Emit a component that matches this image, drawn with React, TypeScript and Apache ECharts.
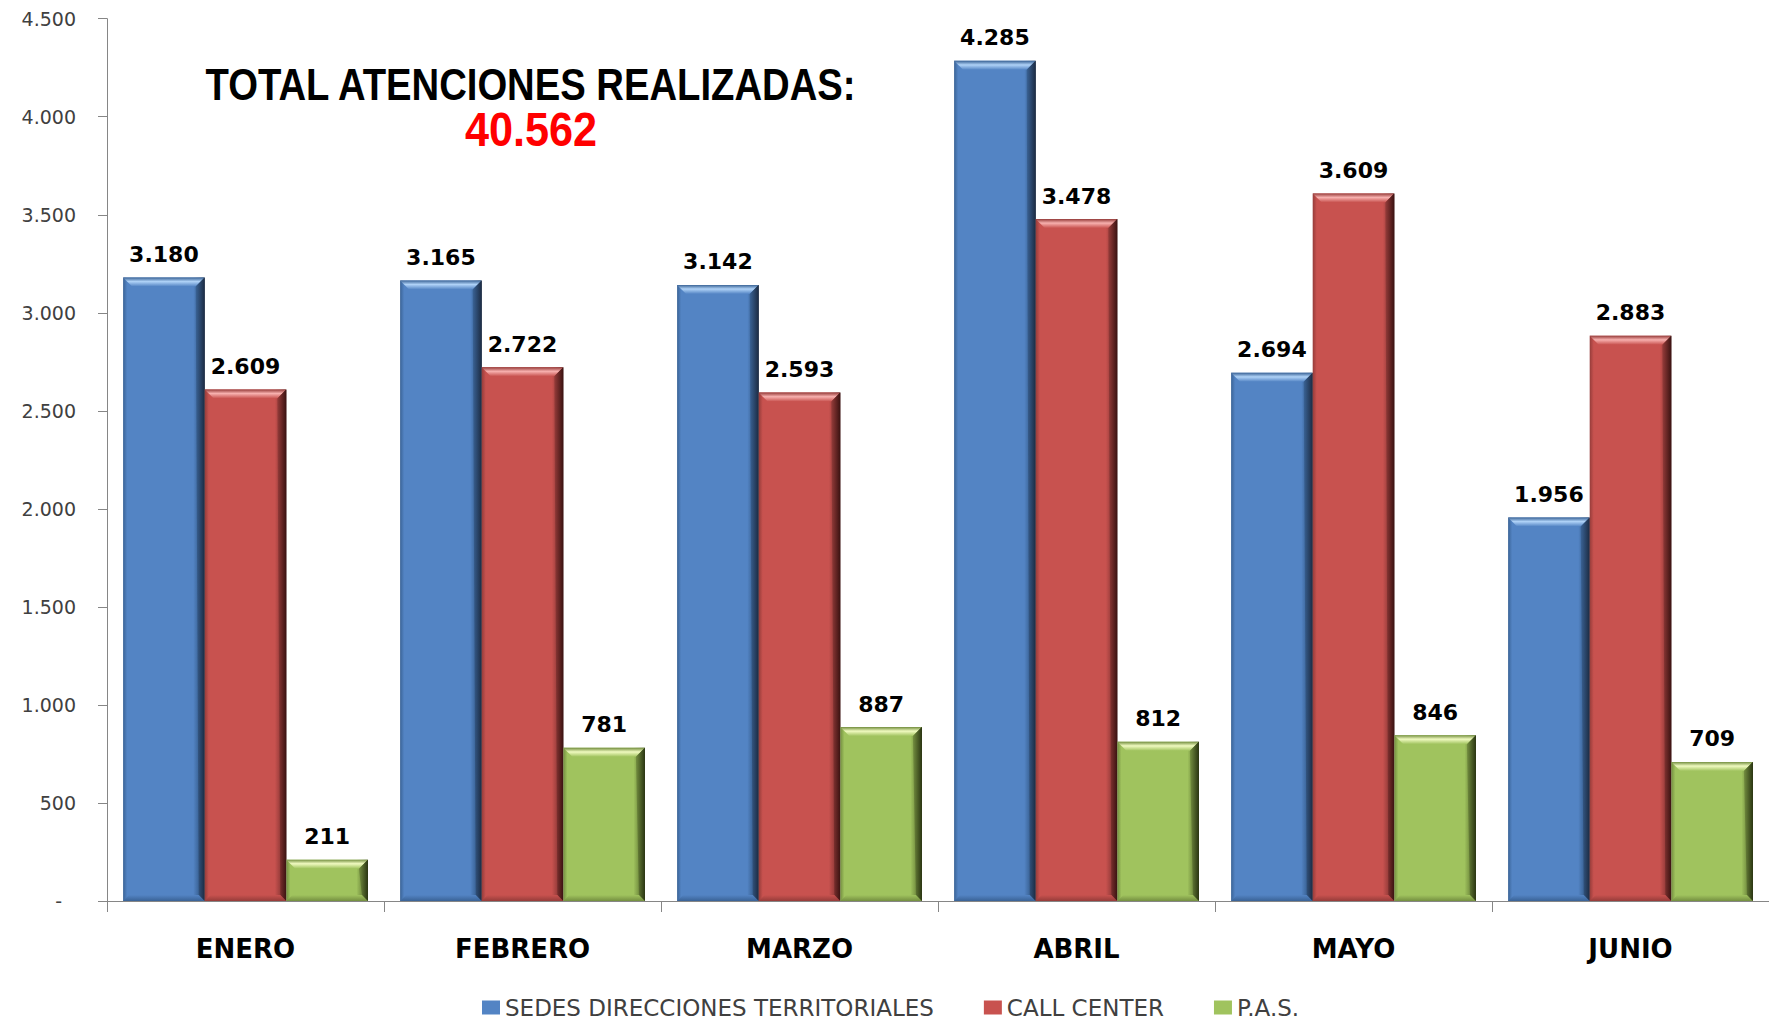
import React, { useEffect, useRef } from 'react';
import * as echarts from 'echarts';

const months = ['ENERO', 'FEBRERO', 'MARZO', 'ABRIL', 'MAYO', 'JUNIO'];
const seriesNames = ['SEDES DIRECCIONES TERRITORIALES', 'CALL CENTER', 'P.A.S.'];
const sedes = [3180, 3165, 3142, 4285, 2694, 1956];
const callCenter = [2609, 2722, 2593, 3478, 3609, 2883];
const pas = [211, 781, 887, 812, 846, 709];
const yMin = 0;
const yMax = 4500;
const yInterval = 500;
const titleText = 'TOTAL ATENCIONES REALIZADAS:';
const totalText = '40.562';

const palettes = [
  { base: '#5384C4', light: '#AFD2F7', dark: '#1C2B42', shade: '#3A6396' },
  { base: '#C8524F', light: '#F7B0AE', dark: '#3A1211', shade: '#963C3A' },
  { base: '#A0C35E', light: '#F0FAC0', dark: '#2A3512', shade: '#748F40' },
];

const fmt = (v: number) => String(v).replace(/\B(?=(\d{3})+(?!\d))/g, '.');

const seriesValues = [sedes, callCenter, pas];

function makeRenderItem(k: number) {
  return (params: any, api: any) => {
    const ci = api.value(0) as number;
    const v = api.value(1) as number;
    const p0 = api.coord([ci, 0]);
    const p1 = api.coord([ci, v]);
    const cw = api.size([1, 0])[0];
    const bw = cw * 0.2946;
    const cx = p0[0] + (k - 1) * bw;
    const x = cx - bw / 2;
    const y = p1[1];
    const h = p0[1] - p1[1];
    const b = Math.min(9, h / 2);
    const bb = Math.min(6, h / 2);
    const pal = palettes[k];
    const G = echarts.graphic.LinearGradient;
    return {
      type: 'group',
      children: [
        {
          type: 'rect',
          shape: { x, y, width: bw, height: h },
          style: {
            fill: new G(0, 0, 1, 0, [
              { offset: 0, color: pal.shade },
              { offset: 0.05, color: pal.base },
              { offset: 0.86, color: pal.base },
              { offset: 0.93, color: pal.shade },
              { offset: 1, color: pal.dark },
            ]),
          },
        },
        {
          type: 'polygon',
          shape: { points: [[x, y], [x + bw, y], [x + bw - b, y + b], [x + b, y + b]] },
          style: {
            fill: new G(0, 0, 0, 1, [
              { offset: 0, color: pal.shade },
              { offset: 0.45, color: pal.light },
              { offset: 1, color: pal.base },
            ]),
          },
        },
        {
          type: 'polygon',
          shape: { points: [[x + bw - b, y + b], [x + bw, y], [x + bw, y + h], [x + bw - bb, y + h - bb]] },
          style: {
            fill: new G(0, 0, 1, 0, [
              { offset: 0, color: pal.shade },
              { offset: 1, color: pal.dark },
            ]),
          },
        },
        {
          type: 'polygon',
          shape: { points: [[x, y + h], [x + bw, y + h], [x + bw - bb, y + h - bb], [x + bb, y + h - bb]] },
          style: {
            fill: new G(0, 0, 0, 1, [
              { offset: 0, color: pal.base },
              { offset: 1, color: pal.shade },
            ]),
          },
        },
        {
          type: 'text',
          x: cx,
          y: y - 23,
          style: {
            text: fmt(v),
            fontSize: 22,
            fontWeight: 'bold',
            fontFamily: 'DejaVu Sans',
            fill: '#000000',
            align: 'center',
            verticalAlign: 'middle',
            textAlign: 'center',
            textVerticalAlign: 'middle',
          },
        },
      ],
    };
  };
}

export default function App() {
  const ref = useRef<HTMLDivElement>(null);
  useEffect(() => {
    if (!ref.current) return;
    const chart = echarts.init(ref.current, undefined, { renderer: 'svg' });
    chart.setOption({
      animation: false,
      backgroundColor: '#ffffff',
      grid: { left: 107, top: 18.7, width: 1664, height: 882.3, containLabel: false },
      xAxis: {
        type: 'category',
        data: months,
        axisLine: { show: true, lineStyle: { color: '#868686', width: 1 } },
        axisTick: { show: true, length: 11, lineStyle: { color: '#868686' } },
        axisLabel: {
          margin: 35,
          fontSize: 26,
          fontWeight: 'bold',
          fontFamily: 'DejaVu Sans',
          color: '#000000',
        },
        splitLine: { show: false },
      },
      yAxis: {
        type: 'value',
        min: yMin,
        max: yMax,
        interval: yInterval,
        axisLine: { show: true, lineStyle: { color: '#868686', width: 1 } },
        axisTick: { show: true, length: 9, lineStyle: { color: '#868686' } },
        splitLine: { show: false },
        axisLabel: {
          margin: 31,
          fontSize: 19,
          fontFamily: 'DejaVu Sans',
          color: '#404040',
          formatter: (v: number) => (v === 0 ? '{d|-}' : fmt(v)),
          rich: {
            d: { padding: [0, 14, 0, 0], fontSize: 19, fontFamily: 'DejaVu Sans', color: '#404040' },
          },
        },
      },
      legend: {
        left: 482,
        top: 996,
        padding: 0,
        itemWidth: 18,
        itemHeight: 14,
        itemGap: 50,
        icon: 'rect',
        textStyle: { fontSize: 23, lineHeight: 23, fontFamily: 'DejaVu Sans', color: '#404040' },
        data: seriesNames.map((n, i) => ({ name: n, itemStyle: { color: palettes[i].base } })),
      },
      graphic: [
        {
          type: 'text',
          x: 530.5,
          y: 84,
          scaleX: 0.85,
          style: {
            text: titleText,
            fontSize: 45,
            fontWeight: 'bold',
            fontFamily: 'Liberation Sans',
            fill: '#000000',
            align: 'center',
            verticalAlign: 'middle',
            textAlign: 'center',
            textVerticalAlign: 'middle',
          },
        },
        {
          type: 'text',
          x: 531,
          y: 130,
          scaleX: 0.91,
          style: {
            text: totalText,
            fontSize: 47.5,
            fontWeight: 'bold',
            fontFamily: 'Liberation Sans',
            fill: '#FF0000',
            align: 'center',
            verticalAlign: 'middle',
            textAlign: 'center',
            textVerticalAlign: 'middle',
          },
        },
      ],
      series: seriesNames.map((name, k) => ({
        type: 'custom',
        name,
        itemStyle: { color: palettes[k].base },
        encode: { x: 0, y: 1 },
        data: seriesValues[k].map((v, i) => [i, v]),
        renderItem: makeRenderItem(k),
        clip: false,
      })),
    });
    return () => chart.dispose();
  }, []);
  return (
    <div
      ref={ref}
      style={{ position: 'absolute', left: 0, top: 0, width: 1769, height: 1020 }}
    />
  );
}
